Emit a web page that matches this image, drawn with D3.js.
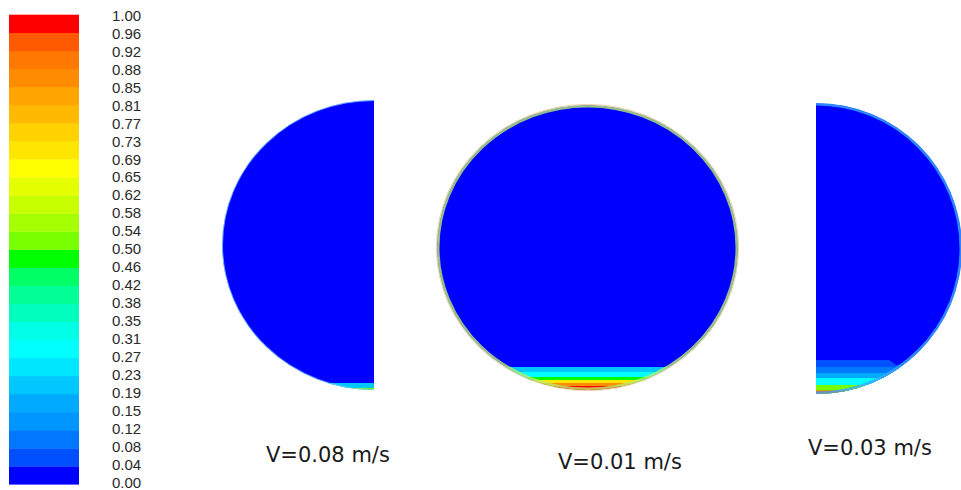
<!DOCTYPE html>
<html>
<head>
<meta charset="utf-8">
<script src="https://cdn.jsdelivr.net/npm/d3@7"></script>
<style>
  body { margin: 0; background: #fff; }
  svg { display: block; }
</style>
</head>
<body>
<div id="chart"></div>
<script>
// colour legend, bottom band first
var bandColors = ["#0000FF", "#0050FF", "#0078FF", "#0096FF", "#00AAFF", "#00C8FF", "#00E6FF",
  "#00FFFF", "#00FFE6", "#00FFBE", "#00FF96", "#00FF64", "#00FF00", "#78FF00", "#A5FF00",
  "#C8FF00", "#E6FF00", "#FFFF00", "#FFE600", "#FFD200", "#FFB900", "#FFA500", "#FF8C00",
  "#FF7800", "#FF5A00", "#FF0000"];
var tickLabels = ["0.00", "0.04", "0.08", "0.12", "0.15", "0.19", "0.23", "0.27", "0.31",
  "0.35", "0.38", "0.42", "0.46", "0.50", "0.54", "0.58", "0.62", "0.65", "0.69", "0.73",
  "0.77", "0.81", "0.85", "0.88", "0.92", "0.96", "1.00"];

var caseLabels = ["V=0.08 m/s", "V=0.01 m/s", "V=0.03 m/s"];

// settled layers: volume fraction + interface profile [x (-1..1), height above bottom (0..1)]
var layers008 = [
  {v: 0.22, profile: [[-1, 0.024], [1, 0.024]]},
  {v: 0.50, profile: [[-1, 0.007], [1, 0.007]]}
];
var layers001 = [
  {v: 0.20, profile: [[-1, 0.081], [1, 0.081]]},
  {v: 0.30, profile: [[-1, 0.063], [1, 0.063]]},
  {v: 0.48, profile: [[-1, 0.046], [1, 0.046]]},
  {v: 0.70, profile: [[-1, 0.035], [1, 0.035]]},
  {v: 0.85, profile: [[-1, 0.025], [1, 0.025]]},
  {v: 0.98, profile: [[-1, 0.014], [1, 0.014]]}
];
var layers003 = [
  {v: 0.06, profile: [[0, 0.117], [0.5, 0.117], [0.55, 0.1], [1, 0.1]]},
  {v: 0.10, profile: [[0, 0.093], [1, 0.093]]},
  {v: 0.17, profile: [[0, 0.072], [1, 0.072]]},
  {v: 0.29, profile: [[0, 0.055], [1, 0.055]]},
  {v: 0.50, profile: [[0, 0.031], [1, 0.031]]},
  {v: 0.95, profile: [[0, 0.012], [1, 0.012]]}
];

var width = 961, height = 490;

var svg = d3.select("#chart").append("svg")
    .attr("width", width)
    .attr("height", height);
svg.append("rect").attr("width", width).attr("height", height).attr("fill", "#fff");

var defs = svg.append("defs");

var colorOf = d3.scaleQuantize().domain([0, 1]).range(bandColors);

// ---- colour bar ----
var yBar = d3.scaleLinear().domain([0, 1]).range([484.3, 14.7]);
var yLab = d3.scaleLinear().domain([0, 1]).range([482.3, 15.7]);
var nb = bandColors.length;

svg.append("g").selectAll("rect")
    .data(bandColors)
    .enter()
    .append("rect")
    .attr("x", 9)
    .attr("width", 70)
    .attr("y", function(d, i){ return yBar((i + 1) / nb); })
    .attr("height", function(d, i){ return yBar(i / nb) - yBar((i + 1) / nb) + 0.3; })
    .attr("fill", function(d){ return d; });

svg.append("g").selectAll("text")
    .data(tickLabels)
    .enter()
    .append("text")
    .attr("x", 112)
    .attr("y", function(d, i){ return yLab(i / nb); })
    .attr("dy", "0.35em")
    .attr("font-family", "'Liberation Sans', Arial, sans-serif")
    .attr("font-size", 15)
    .attr("fill", "#2a2a2a")
    .text(function(d){ return d; });

// ---- cross sections ----
var sections = [
  {cx: 374, cy: 245, rx: 152, ry: 145, half: "left", layers: layers008,
   rim: "#7fd4ff", rimW: 1, tx: 266, ty: 462},
  {cx: 587.5, cy: 247.5, rx: 150.5, ry: 142.5, half: "none", layers: layers001,
   rim: "#b8ec70", rimW: 2.5, tx: 558, ty: 469},
  {cx: 816, cy: 248.5, rx: 146, ry: 145.5, half: "right", layers: layers003,
   rim: "#3aa8ff", rimW: 2.5, tx: 808, ty: 455}
];

sections.forEach(function(s, k){
  var xs = d3.scaleLinear().domain([-1, 1]).range([s.cx - s.rx, s.cx + s.rx]);
  var ys = d3.scaleLinear().domain([0, 1]).range([s.cy + s.ry, s.cy - s.ry]);

  var halfId = "half" + k, ellId = "ell" + k;
  var hx0 = s.half == "right" ? s.cx : 0;
  var hx1 = s.half == "left" ? s.cx : width;
  defs.append("clipPath").attr("id", halfId)
    .append("rect").attr("x", hx0).attr("y", 0).attr("width", hx1 - hx0).attr("height", height);
  defs.append("clipPath").attr("id", ellId)
    .append("ellipse").attr("cx", s.cx).attr("cy", s.cy).attr("rx", s.rx).attr("ry", s.ry);

  var outer = svg.append("g").attr("clip-path", "url(#" + halfId + ")");
  var g = outer.append("g").attr("clip-path", "url(#" + ellId + ")");

  // carrier phase
  g.append("ellipse")
    .attr("cx", s.cx).attr("cy", s.cy).attr("rx", s.rx).attr("ry", s.ry)
    .attr("fill", colorOf(0));

  var area = d3.area()
    .x(function(d){ return xs(d[0]); })
    .y0(ys(0) + 2)
    .y1(function(d){ return ys(d[1]); });

  g.selectAll("path.layer")
    .data(s.layers)
    .enter()
    .append("path")
    .attr("class", "layer")
    .attr("d", function(d){ return area(d.profile); })
    .attr("fill", function(d){ return colorOf(d.v); });

  // thin wall layer
  if (s.half == "none") {
    outer.append("ellipse")
      .attr("cx", s.cx).attr("cy", s.cy).attr("rx", s.rx + 0.6).attr("ry", s.ry + 0.6)
      .attr("fill", "none").attr("stroke", "#e0a860").attr("stroke-width", 1).attr("opacity", 0.55);
  }
  g.append("ellipse")
    .attr("cx", s.cx).attr("cy", s.cy).attr("rx", s.rx).attr("ry", s.ry)
    .attr("fill", "none").attr("stroke", s.rim).attr("stroke-width", s.rimW * 2).attr("opacity", 0.8);

  svg.append("text")
    .attr("x", s.tx)
    .attr("y", s.ty)
    .attr("font-family", "'DejaVu Sans', Verdana, sans-serif")
    .attr("font-size", 21)
    .attr("fill", "#1a1a1a")
    .text(caseLabels[k]);
});
</script>
</body>
</html>
